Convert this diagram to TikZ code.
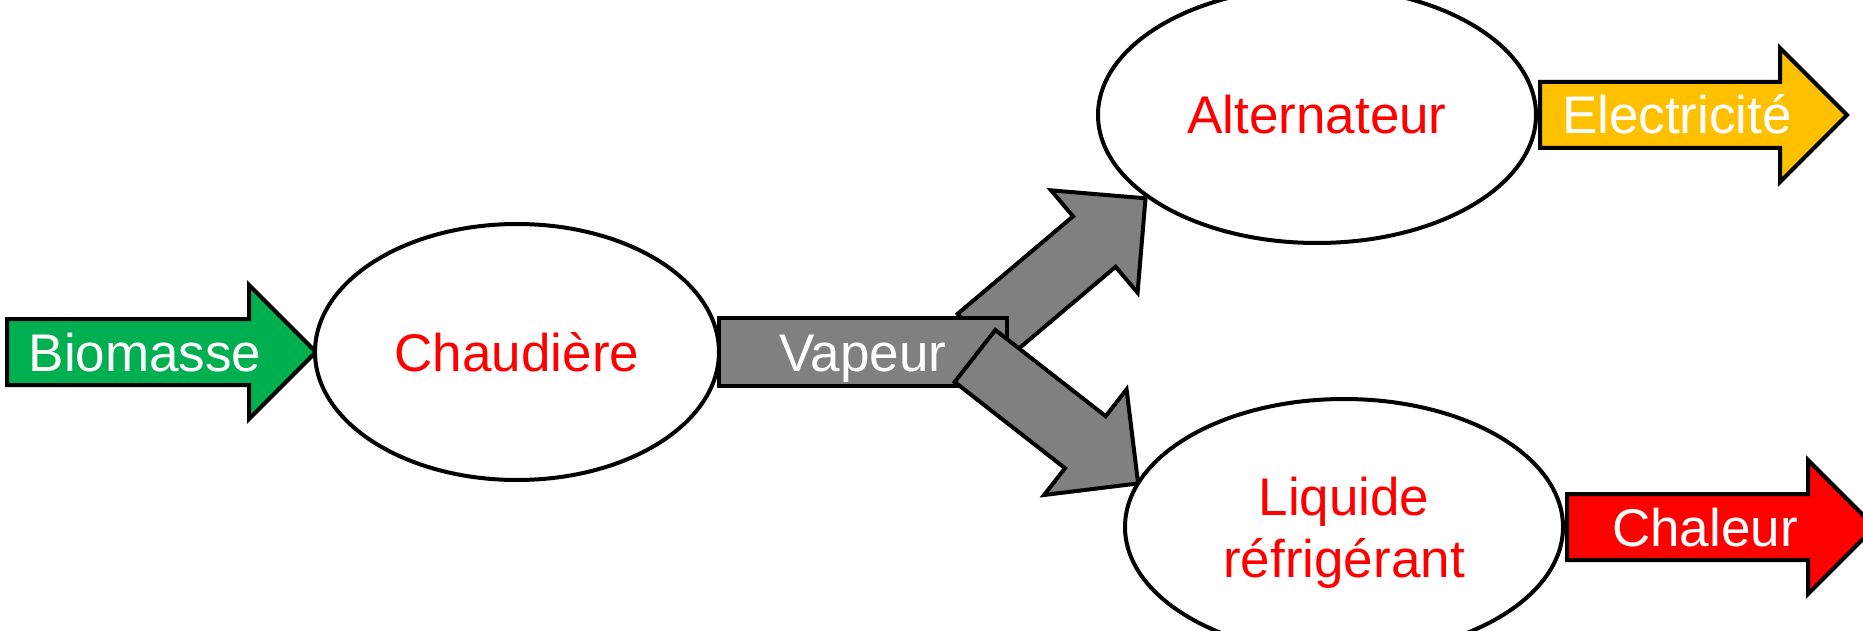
\documentclass[tikz,border=0pt]{standalone}
\usepackage{fontspec}
\setmainfont{Liberation Sans}
\usetikzlibrary{shapes.geometric}
\definecolor{biogreen}{HTML}{00B050}
\definecolor{steamgray}{HTML}{808080}
\definecolor{elecyellow}{HTML}{FFC000}
\definecolor{heatred}{HTML}{FF0000}
\newcommand{\flowarrow}[4]{\draw[flowshape,fill=#1,shift={#2},rotate=#3] (0,-33) -- ({#4-67},-33) -- ({#4-67},-67) -- (#4,0) -- ({#4-67},67) -- ({#4-67},33) -- (0,33) -- cycle;}
\begin{document}
\begin{tikzpicture}[x=1pt,y=-1pt,
  flowshape/.style={draw=black,line width=4pt},
  unit/.style={ellipse, draw=black, line width=4pt, fill=white, minimum width=438pt, minimum height=256pt, inner sep=0pt, text=red, font=\fontsize{53}{62}\selectfont},
  lbl/.style={text=white, font=\fontsize{53}{62}\selectfont, inner sep=0pt, text height=38pt, text depth=0pt}]
\clip (0,0) rectangle (1863,631);
% input
\flowarrow{biogreen}{(7,352)}{0}{309}
\node[lbl] (bio) at (145,352) {Biomasse};
\node[unit, minimum width=404pt, text height=38pt, text depth=0pt] (chaud) at (517,352) {Chaudière};
% steam
\flowarrow{steamgray}{(979,339)}{40.2}{218}
\node[lbl, draw=black, line width=4pt, fill=steamgray, minimum width=288pt, minimum height=68pt] (vap) at (863,352) {Vapeur};
\flowarrow{steamgray}{(975,356)}{-38}{207}
% units
\node[unit, text height=38pt, text depth=0pt] (alt) at (1317,115) {Alternateur};
\node[unit, align=center] (liq) at (1344,527) {\rule{0pt}{49pt}Liquide\\réfrigérant};
% outputs
\flowarrow{elecyellow}{(1540,115)}{0}{307}
\node[lbl] (elec) at (1677,115) {Electricité};
\flowarrow{heatred}{(1567,527)}{0}{308}
\node[lbl] (chal) at (1705,527) {Chaleur};
\end{tikzpicture}
\end{document}
